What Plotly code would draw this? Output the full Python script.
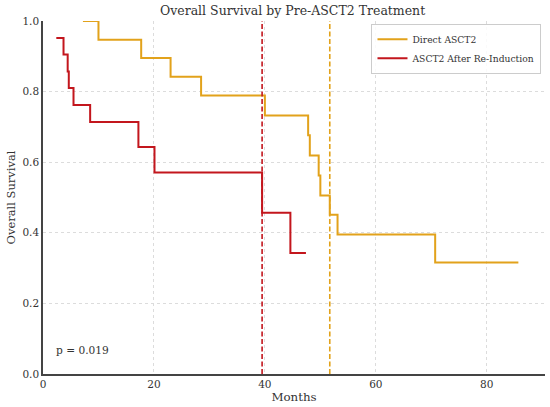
import plotly.graph_objects as go

# Kaplan-Meier step points (months, survival probability)
direct_months = [7.2, 10.0, 17.7, 23.0, 28.5, 40.0, 47.8, 48.1, 49.7, 50.0, 51.7, 53.1, 70.7, 85.7]
direct_surv = [1.0, 0.947, 0.895, 0.842, 0.789, 0.732, 0.676, 0.619, 0.562, 0.506, 0.451, 0.395, 0.316, 0.316]

reind_months = [2.4, 3.7, 4.45, 4.65, 5.5, 8.5, 17.2, 20.1, 39.5, 44.6, 47.4]
reind_surv = [0.952, 0.905, 0.857, 0.810, 0.762, 0.714, 0.643, 0.571, 0.457, 0.343, 0.343]

median_direct = 51.7
median_reind = 39.5
p_value = "p = 0.019"

yellow = "#E2A21B"
red = "#C3161D"
font = "DejaVu Serif"

fig = go.Figure()
fig.add_trace(go.Scatter(x=direct_months, y=direct_surv, mode="lines", line_shape="hv",
                         line=dict(color=yellow, width=2), name="Direct ASCT2"))
fig.add_trace(go.Scatter(x=reind_months, y=reind_surv, mode="lines", line_shape="hv",
                         line=dict(color=red, width=2), name="ASCT2 After Re-Induction"))

fig.add_vline(x=median_reind, line=dict(color=red, width=1.6, dash="5px,2.5px"))
fig.add_vline(x=median_direct, line=dict(color=yellow, width=1.6, dash="5px,2.5px"))

fig.add_annotation(text=p_value, xref="paper", yref="paper", x=0.022, y=0.045,
                   xanchor="left", yanchor="bottom", showarrow=False,
                   font=dict(family=font, size=10.6, color="#333333"))

fig.update_layout(
    width=550, height=407,
    margin=dict(l=43, r=5, t=21, b=33),
    paper_bgcolor="white", plot_bgcolor="white",
    font=dict(family=font, size=10, color="#333333"),
    title=dict(text="Overall Survival by Pre-ASCT2 Treatment", x=0.532, xanchor="center",
               y=0.973, yanchor="middle", font=dict(family=font, size=12.5, color="#333333")),
    legend=dict(x=0.993, y=0.992, xanchor="right", yanchor="top",
                bgcolor="rgba(255,255,255,0.85)", bordercolor="#cccccc", borderwidth=1,
                font=dict(family=font, size=9.2, color="#333333"),
                tracegroupgap=0, itemwidth=30),
)
fig.update_xaxes(range=[0, 90.5], tickvals=[0, 20, 40, 60, 80], showgrid=True,
                 gridcolor="#dcdcdc", griddash="dot", gridwidth=0.7, automargin=False,
                 showline=True, linecolor="#444444", linewidth=1.5, zeroline=False,
                 ticks="", tickfont=dict(size=10.5),
                 title=dict(text="Months", standoff=2, font=dict(size=11.8)))
fig.update_yaxes(range=[0, 1.0], tickvals=[0, 0.2, 0.4, 0.6, 0.8, 1.0], tickformat=".1f",
                 showgrid=True, gridcolor="#dcdcdc", griddash="dot", gridwidth=0.7, automargin=False,
                 showline=True, linecolor="#444444", linewidth=1.5, zeroline=False,
                 ticks="", tickfont=dict(size=10.5),
                 title=dict(text="Overall Survival", standoff=4, font=dict(size=11.5)))

fig.write_html("out.html", config={"displayModeBar": False},
               post_script="document.body.style.margin='0';")
